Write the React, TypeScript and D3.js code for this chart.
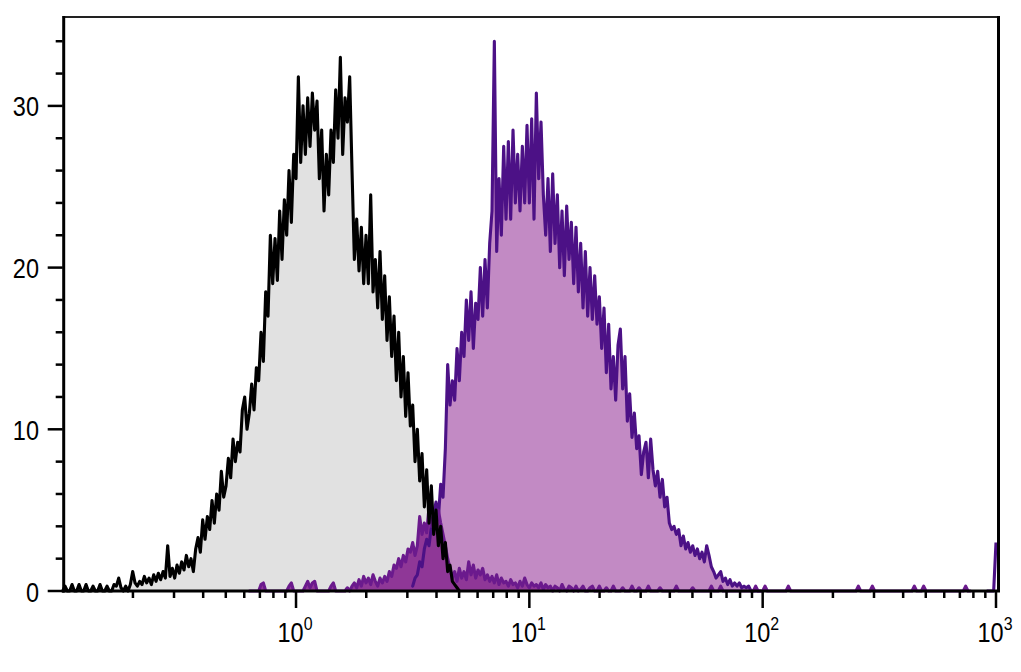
import React from "react";
import * as d3 from "d3";

// Histogram bins on a log10 grid (channel = 10^(BIN_START_LOG + i * BIN_STEP_LOG))
const BIN_START_LOG = -1;
const BIN_STEP_LOG = 0.01;

// Unstained control (gray fill, black line), bins 0..170
const controlStart = 0;
const controlCounts = [
  0, 0.3, 0, 0, 0.4, 0, 0, 0.4, 0, 0,
  0.4, 0, 0, 0.3, 0, 0, 0.4, 0, 0, 0.3,
  0, 0, 0.4, 0.3, 0.8, 0.2, 0, 0.3, 0, 0.4,
  1.2, 0.5, 0.3, 0.6, 0.4, 0.9, 0.5, 0.8, 0.4, 1.0,
  0.6, 1.1, 0.7, 1.2, 0.8, 2.8, 0.9, 1.4, 0.8, 1.6,
  1.1, 1.8, 1.3, 2.2, 1.5, 2.0, 1.2, 2.6, 3.3, 2.4,
  4.4, 3.2, 4.6, 3.8, 5.6, 4.2, 6.0, 5.0, 7.4, 5.8,
  6.5, 8.2, 7.0, 9.4, 8.0, 9.2, 8.6, 11.2, 12.0, 10.0,
  11.0, 12.8, 11.2, 13.8, 13.0, 16.0, 14.2, 18.5, 17.0, 22.0,
  19.0, 21.8, 19.2, 23.5, 20.5, 24.2, 22.0, 26.0, 22.8, 27.0,
  25.5, 31.8, 26.5, 30.0, 27.0, 30.5, 27.5, 30.8, 28.5, 30.3,
  25.5, 28.5, 23.5, 27.0, 24.5, 28.5, 26.5, 31.0, 28.0, 33.0,
  27.0, 30.5, 29.0, 31.8, 26.0, 20.5, 23.0, 19.8, 22.5, 19.0,
  22.0, 19.0, 24.5, 18.5, 20.5, 17.5, 21.0, 16.8, 19.5, 15.5,
  18.2, 14.5, 17.0, 13.0, 16.0, 12.0, 14.5, 10.8, 13.5, 10.2,
  11.5, 8.0, 10.0, 6.8, 8.5, 5.2, 7.5, 4.2, 6.5, 3.5,
  5.0, 2.8, 4.0, 2.0, 3.0, 1.2, 1.6, 0.6, 0.4, 0.2,
  0,
];

// Stained sample (light purple fill, indigo line), bins 150..299
const stainedStart = 150;
const stainedCounts = [
  0.3, 0.8, 1.0, 1.8, 1.5, 2.6, 3.2, 2.8, 4.0, 4.8,
  5.5, 4.5, 6.6, 5.8, 8.8, 14.0, 11.5, 13.0, 11.8, 15.0,
  13.0, 16.0, 14.5, 18.0, 15.5, 18.5, 15.0, 17.8, 16.8, 20.0,
  17.0, 20.5, 17.5, 21.5, 23.5, 34.0, 21.0, 25.5, 22.0, 27.5,
  23.0, 27.8, 23.0, 28.5, 24.0, 27.0, 23.5, 27.5, 24.0, 28.8,
  24.0, 29.2, 23.0, 30.8, 25.5, 29.0, 24.5, 22.0, 25.5, 21.0,
  25.8, 21.5, 24.5, 20.0, 23.5, 19.5, 23.8, 20.5, 22.8, 19.0,
  22.5, 18.5, 21.5, 17.5, 21.0, 17.0, 20.0, 16.8, 19.5, 16.5,
  18.2, 15.0, 17.5, 13.5, 16.5, 12.5, 14.5, 11.8, 15.2, 16.2,
  12.5, 14.5, 10.5, 12.2, 9.5, 11.0, 8.8, 9.6, 7.2, 8.6,
  9.2, 7.0, 9.4, 7.5, 6.5, 7.4, 5.8, 6.9, 5.2, 5.8,
  4.2, 3.8, 4.0, 3.5, 3.8, 2.8, 3.4, 2.6, 3.0, 2.4,
  2.8, 2.2, 2.6, 2.0, 2.4, 1.8, 2.8, 2.2, 1.5, 1.2,
  0.8, 1.0, 1.2, 0.6, 0.8, 0.4, 0.7, 0.3, 0.5, 0.3,
  0.5, 0.2, 0.3, 0.2, 0.3, 0, 0, 0, 0, 0,
];

// Pile-up in the last channels of the stained sample, bins 396..400
const stainedEdgeStart = 396;
const stainedEdgeCounts = [0, 0, 0, 0, 3.0];

// Low-level sample (dark purple fill, purple line), bins 80..389
const lowStart = 80;
const lowCounts = [
  0, 0, 0, 0, 0, 0.4, 0.5, 0, 0, 0,
  0, 0, 0, 0, 0, 0, 0, 0.3, 0.5, 0,
  0, 0, 0, 0, 0.3, 0.6, 0.2, 0.5, 0.6, 0,
  0, 0, 0, 0, 0, 0.3, 0.5, 0, 0, 0,
  0, 0, 0.2, 0, 0.3, 0.5, 0.2, 0.7, 0.3, 0.9,
  0.5, 0.8, 0.4, 1.0, 0.6, 0.3, 0.8, 0.5, 0.9, 0.6,
  1.2, 0.9, 1.6, 1.4, 2.0, 1.5, 2.2, 1.8, 2.6, 2.4,
  3.0, 2.2, 2.8, 4.6, 3.5, 4.2, 3.6, 5.2, 4.0, 4.6,
  3.8, 5.0, 4.2, 3.5, 2.8, 2.0, 1.4, 0.8, 1.2, 0.6,
  1.4, 0.8, 1.2, 0.7, 1.8, 1.0, 1.6, 0.8, 1.3, 1.0,
  1.4, 0.7, 1.0, 0.6, 0.9, 0.5, 1.0, 0.4, 0.8, 0.5,
  0.6, 0.3, 0.7, 0.4, 0.5, 0.2, 0.6, 0.3, 0.8, 0.4,
  0.2, 0.5, 0.3, 0.4, 0.2, 0.5, 0.1, 0.4, 0.2, 0.3,
  0, 0.3, 0.2, 0, 0.4, 0.1, 0, 0.3, 0.2, 0,
  0.3, 0, 0.1, 0.3, 0, 0, 0.2, 0.3, 0, 0,
  0.3, 0, 0, 0.2, 0, 0, 0.3, 0, 0, 0,
  0.2, 0, 0, 0, 0.3, 0, 0, 0.2, 0, 0,
  0, 0.3, 0, 0, 0, 0, 0.2, 0, 0, 0,
  0, 0, 0, 0.3, 0, 0, 0, 0, 0, 0,
  0.2, 0, 0, 0, 0, 0, 0, 0, 0.3, 0,
  0, 0, 0.3, 0, 0, 0, 0, 0, 0, 0,
  0, 0, 0, 0, 0, 0, 0, 0.3, 0, 0,
  0, 0.3, 0, 0, 0, 0, 0, 0, 0, 0,
  0, 0.3, 0, 0, 0, 0, 0, 0, 0, 0,
  0, 0, 0, 0, 0, 0, 0, 0, 0, 0,
  0, 0, 0, 0, 0, 0, 0, 0, 0, 0,
  0, 0.3, 0, 0, 0, 0, 0, 0.3, 0, 0,
  0, 0, 0, 0, 0, 0, 0, 0, 0, 0,
  0, 0, 0, 0, 0, 0.3, 0, 0, 0, 0.3,
  0, 0, 0, 0, 0, 0, 0, 0, 0, 0,
  0, 0, 0, 0, 0, 0, 0, 0.3, 0, 0,
];

const yMajorTicks = [0, 10, 20, 30];
const yMinorTicks = [2, 4, 6, 8, 12, 14, 16, 18, 22, 24, 26, 28, 32, 34];
const xDecades = [1, 10, 100, 1000];
const xDecadeExponents = ["0", "1", "2", "3"];
const xMinorMultipliers = [2, 3, 4, 5, 6, 7, 8, 9];
const xMinorDecades = [0.1, 1, 10, 100];

const W = 1021;
const H = 672;
const LEFT = 62.7;
const RIGHT = 996;
const TOP = 16;
const BOTTOM = 591;
const FONT = "'Liberation Sans', Arial, sans-serif";
const TEXT_SQUEEZE = 0.84;

export default function App() {
  const x = d3.scaleLog().domain([0.1, 1000]).range([LEFT, RIGHT]);
  const y = d3.scaleLinear().domain([0, 35.56]).range([BOTTOM, TOP]);

  const toPoints = (start: number, counts: number[]) =>
    counts.map(
      (v, k) =>
        [
          x(Math.pow(10, BIN_START_LOG + (start + k) * BIN_STEP_LOG)),
          y(v),
        ] as [number, number]
    );

  const area = d3
    .area<[number, number]>()
    .x((d) => d[0])
    .y0(y(0))
    .y1((d) => d[1]);
  const line = d3
    .line<[number, number]>()
    .x((d) => d[0])
    .y((d) => d[1]);

  const control = toPoints(controlStart, controlCounts);
  const stained = toPoints(stainedStart, stainedCounts);
  const stainedEdge = toPoints(stainedEdgeStart, stainedEdgeCounts);
  const low = toPoints(lowStart, lowCounts);

  const minorX: number[] = [];
  xMinorDecades.forEach((d) =>
    xMinorMultipliers.forEach((m) => minorX.push(d * m))
  );

  const SW = 3.1;

  return (
    <svg
      width={W}
      height={H}
      style={{ position: "fixed", left: 0, top: 0, background: "#fff" }}
    >
      <rect x={0} y={0} width={W} height={H} fill="#fff" />
      <path d={area(control) || ""} fill="#e1e1e1" />
      <path d={area(stained) || ""} fill="#c28ac4" />
      <path d={area(low) || ""} fill="#8f3797" />
      <path
        d={line(stained) || ""}
        fill="none"
        stroke="#4c1186"
        strokeWidth={SW}
        strokeLinejoin="round"
        strokeLinecap="round"
      />
      <path
        d={line(stainedEdge) || ""}
        fill="none"
        stroke="#4c1186"
        strokeWidth={SW}
        strokeLinejoin="round"
      />
      <path
        d={line(low) || ""}
        fill="none"
        stroke="#6b1a8d"
        strokeWidth={SW}
        strokeLinejoin="round"
        strokeLinecap="round"
      />
      <path
        d={line(control) || ""}
        fill="none"
        stroke="#000"
        strokeWidth={SW}
        strokeLinejoin="round"
        strokeLinecap="round"
      />

      {/* frame */}
      <line x1={LEFT} x2={RIGHT + 2.5} y1={TOP + 1} y2={TOP + 1} stroke="#222" strokeWidth={2} />
      <line x1={RIGHT + 2.5} x2={RIGHT + 2.5} y1={TOP} y2={BOTTOM} stroke="#000" strokeWidth={3} />

      {/* y axis */}
      <line x1={LEFT + 1} x2={LEFT + 1} y1={TOP} y2={BOTTOM + 1.5} stroke="#000" strokeWidth={3} />
      {yMajorTicks.map((t) => (
        <g key={"ym" + t}>
          <line x1={LEFT - 15} x2={LEFT} y1={y(t)} y2={y(t)} stroke="#000" strokeWidth={2.5} />
          <text
            transform={`translate(39,${y(t) + 10.5}) scale(${TEXT_SQUEEZE},1)`}
            textAnchor="end"
            fontFamily={FONT}
            fontSize={28}
            fill="#000"
          >
            {t}
          </text>
        </g>
      ))}
      {yMinorTicks.map((t) => (
        <line key={"yn" + t} x1={LEFT - 7} x2={LEFT} y1={y(t)} y2={y(t)} stroke="#000" strokeWidth={2.5} />
      ))}

      {/* x axis */}
      <line x1={LEFT} x2={RIGHT + 4} y1={BOTTOM} y2={BOTTOM} stroke="#000" strokeWidth={3} />
      {minorX.map((v) => (
        <line key={"xn" + v} x1={x(v)} x2={x(v)} y1={BOTTOM} y2={BOTTOM + 7} stroke="#000" strokeWidth={2.5} />
      ))}
      {xDecades.map((v, i) => (
        <g key={"xm" + v}>
          <line x1={x(v)} x2={x(v)} y1={BOTTOM} y2={BOTTOM + 17} stroke="#000" strokeWidth={2.5} />
          <text
            transform={`translate(${x(v) - 1},642) scale(${TEXT_SQUEEZE},1)`}
            textAnchor="middle"
            fontFamily={FONT}
            fontSize={28}
            fill="#000"
          >
            10
            <tspan fontSize={19} dy={-12}>
              {xDecadeExponents[i]}
            </tspan>
          </text>
        </g>
      ))}
    </svg>
  );
}
